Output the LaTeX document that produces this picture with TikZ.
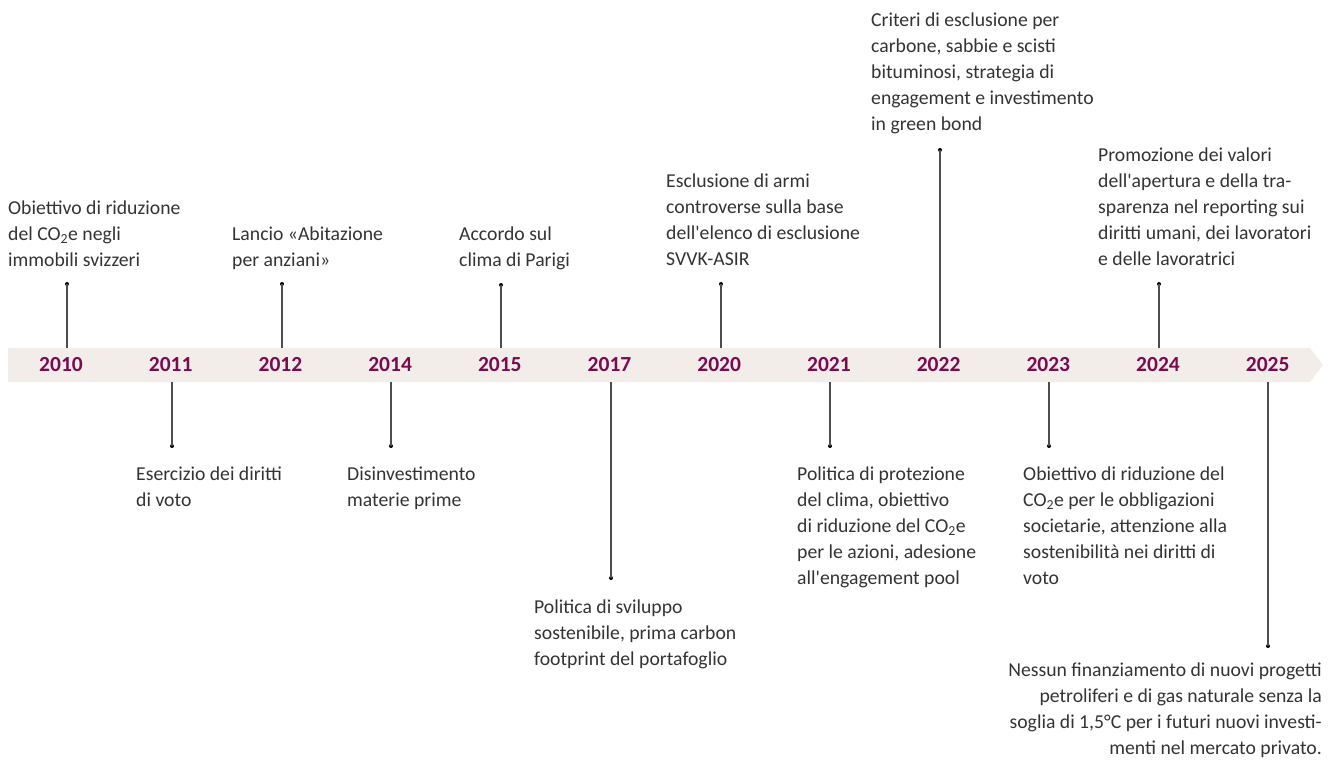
\documentclass[tikz,border=0pt]{standalone}
\usepackage{fontspec}
\setmainfont{Carlito}
\usetikzlibrary{positioning}
\definecolor{yearred}{HTML}{7A0B50}
\definecolor{bandgray}{HTML}{F2EDE9}
\definecolor{stemgray}{HTML}{4D4D4D}
\definecolor{textgray}{HTML}{333333}

\begin{document}
\begin{tikzpicture}
	[x=1pt, y=-1pt, inner sep=0pt,
	year/.style	= {font=\bfseries\fontsize{21.5}{24}\selectfont, text=yearred},
	event/.style	= {anchor=north west, align=left, text=textgray, font=\fontsize{19.7}{26}\selectfont},
	eventr/.style	= {anchor=north east, align=right, text=textgray, font=\fontsize{19.7}{26}\selectfont},
	dot/.style	= {circle, fill=black, minimum size=4pt},
	stem/.style	= {draw=stemgray, line width=1.1pt}]

	\useasboundingbox (0,0) rectangle (1336,762);

	% band with arrow tip
	\fill [bandgray] (8,348) -- (1310,348) -- (1323,365) -- (1310,382) -- (8,382) -- cycle;
	\coordinate (bandtop) at (0,348);
	\coordinate (bandbot) at (0,382);

	\node at (61, 365)	[year]	(y2010)	{2010};
	\node at (170.7, 365)	[year]	(y2011)	{2011};
	\node at (280.4, 365)	[year]	(y2012)	{2012};
	\node at (390.1, 365)	[year]	(y2014)	{2014};
	\node at (499.8, 365)	[year]	(y2015)	{2015};
	\node at (609.5, 365)	[year]	(y2017)	{2017};
	\node at (719.2, 365)	[year]	(y2020)	{2020};
	\node at (828.9, 365)	[year]	(y2021)	{2021};
	\node at (938.6, 365)	[year]	(y2022)	{2022};
	\node at (1048.3, 365)	[year]	(y2023)	{2023};
	\node at (1158, 365)	[year]	(y2024)	{2024};
	\node at (1267.7, 365)	[year]	(y2025)	{2025};

	% dots above
	\node at (67, 284)	[dot]	(d2010)	{};
	\node at (282, 284)	[dot]	(d2012)	{};
	\node at (501, 285)	[dot]	(d2015)	{};
	\node at (721, 284)	[dot]	(d2020)	{};
	\node at (940, 150)	[dot]	(d2022)	{};
	\node at (1159, 284)	[dot]	(d2024)	{};
	% dots below
	\node at (172, 446)	[dot]	(d2011)	{};
	\node at (391, 446)	[dot]	(d2014)	{};
	\node at (611, 578)	[dot]	(d2017)	{};
	\node at (830, 446)	[dot]	(d2021)	{};
	\node at (1049, 446)	[dot]	(d2023)	{};
	\node at (1268, 646)	[dot]	(d2025)	{};

	\draw [stem] (d2010.center) -- (d2010 |- bandtop);
	\draw [stem] (d2012.center) -- (d2012 |- bandtop);
	\draw [stem] (d2015.center) -- (d2015 |- bandtop);
	\draw [stem] (d2020.center) -- (d2020 |- bandtop);
	\draw [stem] (d2022.center) -- (d2022 |- bandtop);
	\draw [stem] (d2024.center) -- (d2024 |- bandtop);
	\draw [stem] (d2011.center) -- (d2011 |- bandbot);
	\draw [stem] (d2014.center) -- (d2014 |- bandbot);
	\draw [stem] (d2017.center) -- (d2017 |- bandbot);
	\draw [stem] (d2021.center) -- (d2021 |- bandbot);
	\draw [stem] (d2023.center) -- (d2023 |- bandbot);
	\draw [stem] (d2025.center) -- (d2025 |- bandbot);

	% texts above
	\node at (8, 195.8)	[event]	(t2010)	{\strut Obiettivo di riduzione\\del CO\textsubscript{2}e negli\\immobili svizzeri};
	\node at (232, 221.8)	[event]	(t2012)	{\strut Lancio «Abitazione\\per anziani»};
	\node at (459, 221.8)	[event]	(t2015)	{\strut Accordo sul\\clima di Parigi};
	\node at (666, 168.8)	[event]	(t2020)	{\strut Esclusione di armi\\controverse sulla base\\dell\textquotesingle elenco di esclusione\\SVVK-ASIR};
	\node at (871, 7.8)	[event]	(t2022)	{\strut Criteri di esclusione per\\carbone, sabbie e scisti\\bituminosi, strategia di\\engagement e investimento\\in green bond};
	\node at (1098, 142.8)	[event]	(t2024)	{\strut Promozione dei valori\\dell\textquotesingle apertura e della tra-\\sparenza nel reporting sui\\diritti umani, dei lavoratori\\e delle lavoratrici};

	% texts below
	\node at (136, 461.8)	[event]	(t2011)	{\strut Esercizio dei diritti\\di voto};
	\node at (347, 461.8)	[event]	(t2014)	{\strut Disinvestimento\\materie prime};
	\node at (534, 594.8)	[event]	(t2017)	{\strut Politica di sviluppo\\sostenibile, prima carbon\\footprint del portafoglio};
	\node at (797, 461.8)	[event]	(t2021)	{\strut Politica di protezione\\del clima, obiettivo\\di riduzione del CO\textsubscript{2}e\\per le azioni, adesione\\all\textquotesingle engagement pool};
	\node at (1023, 461.8)	[event]	(t2023)	{\strut Obiettivo di riduzione del\\CO\textsubscript{2}e per le obbligazioni\\societarie, attenzione alla\\sostenibilità nei diritti di\\voto};
	\node at (1322, 657.8)	[eventr]	(t2025)	{\strut Nessun finanziamento di nuovi progetti\\petroliferi e di gas naturale senza la\\soglia di 1,5°C per i futuri nuovi investi-\\menti nel mercato privato.};
\end{tikzpicture}
\end{document}
